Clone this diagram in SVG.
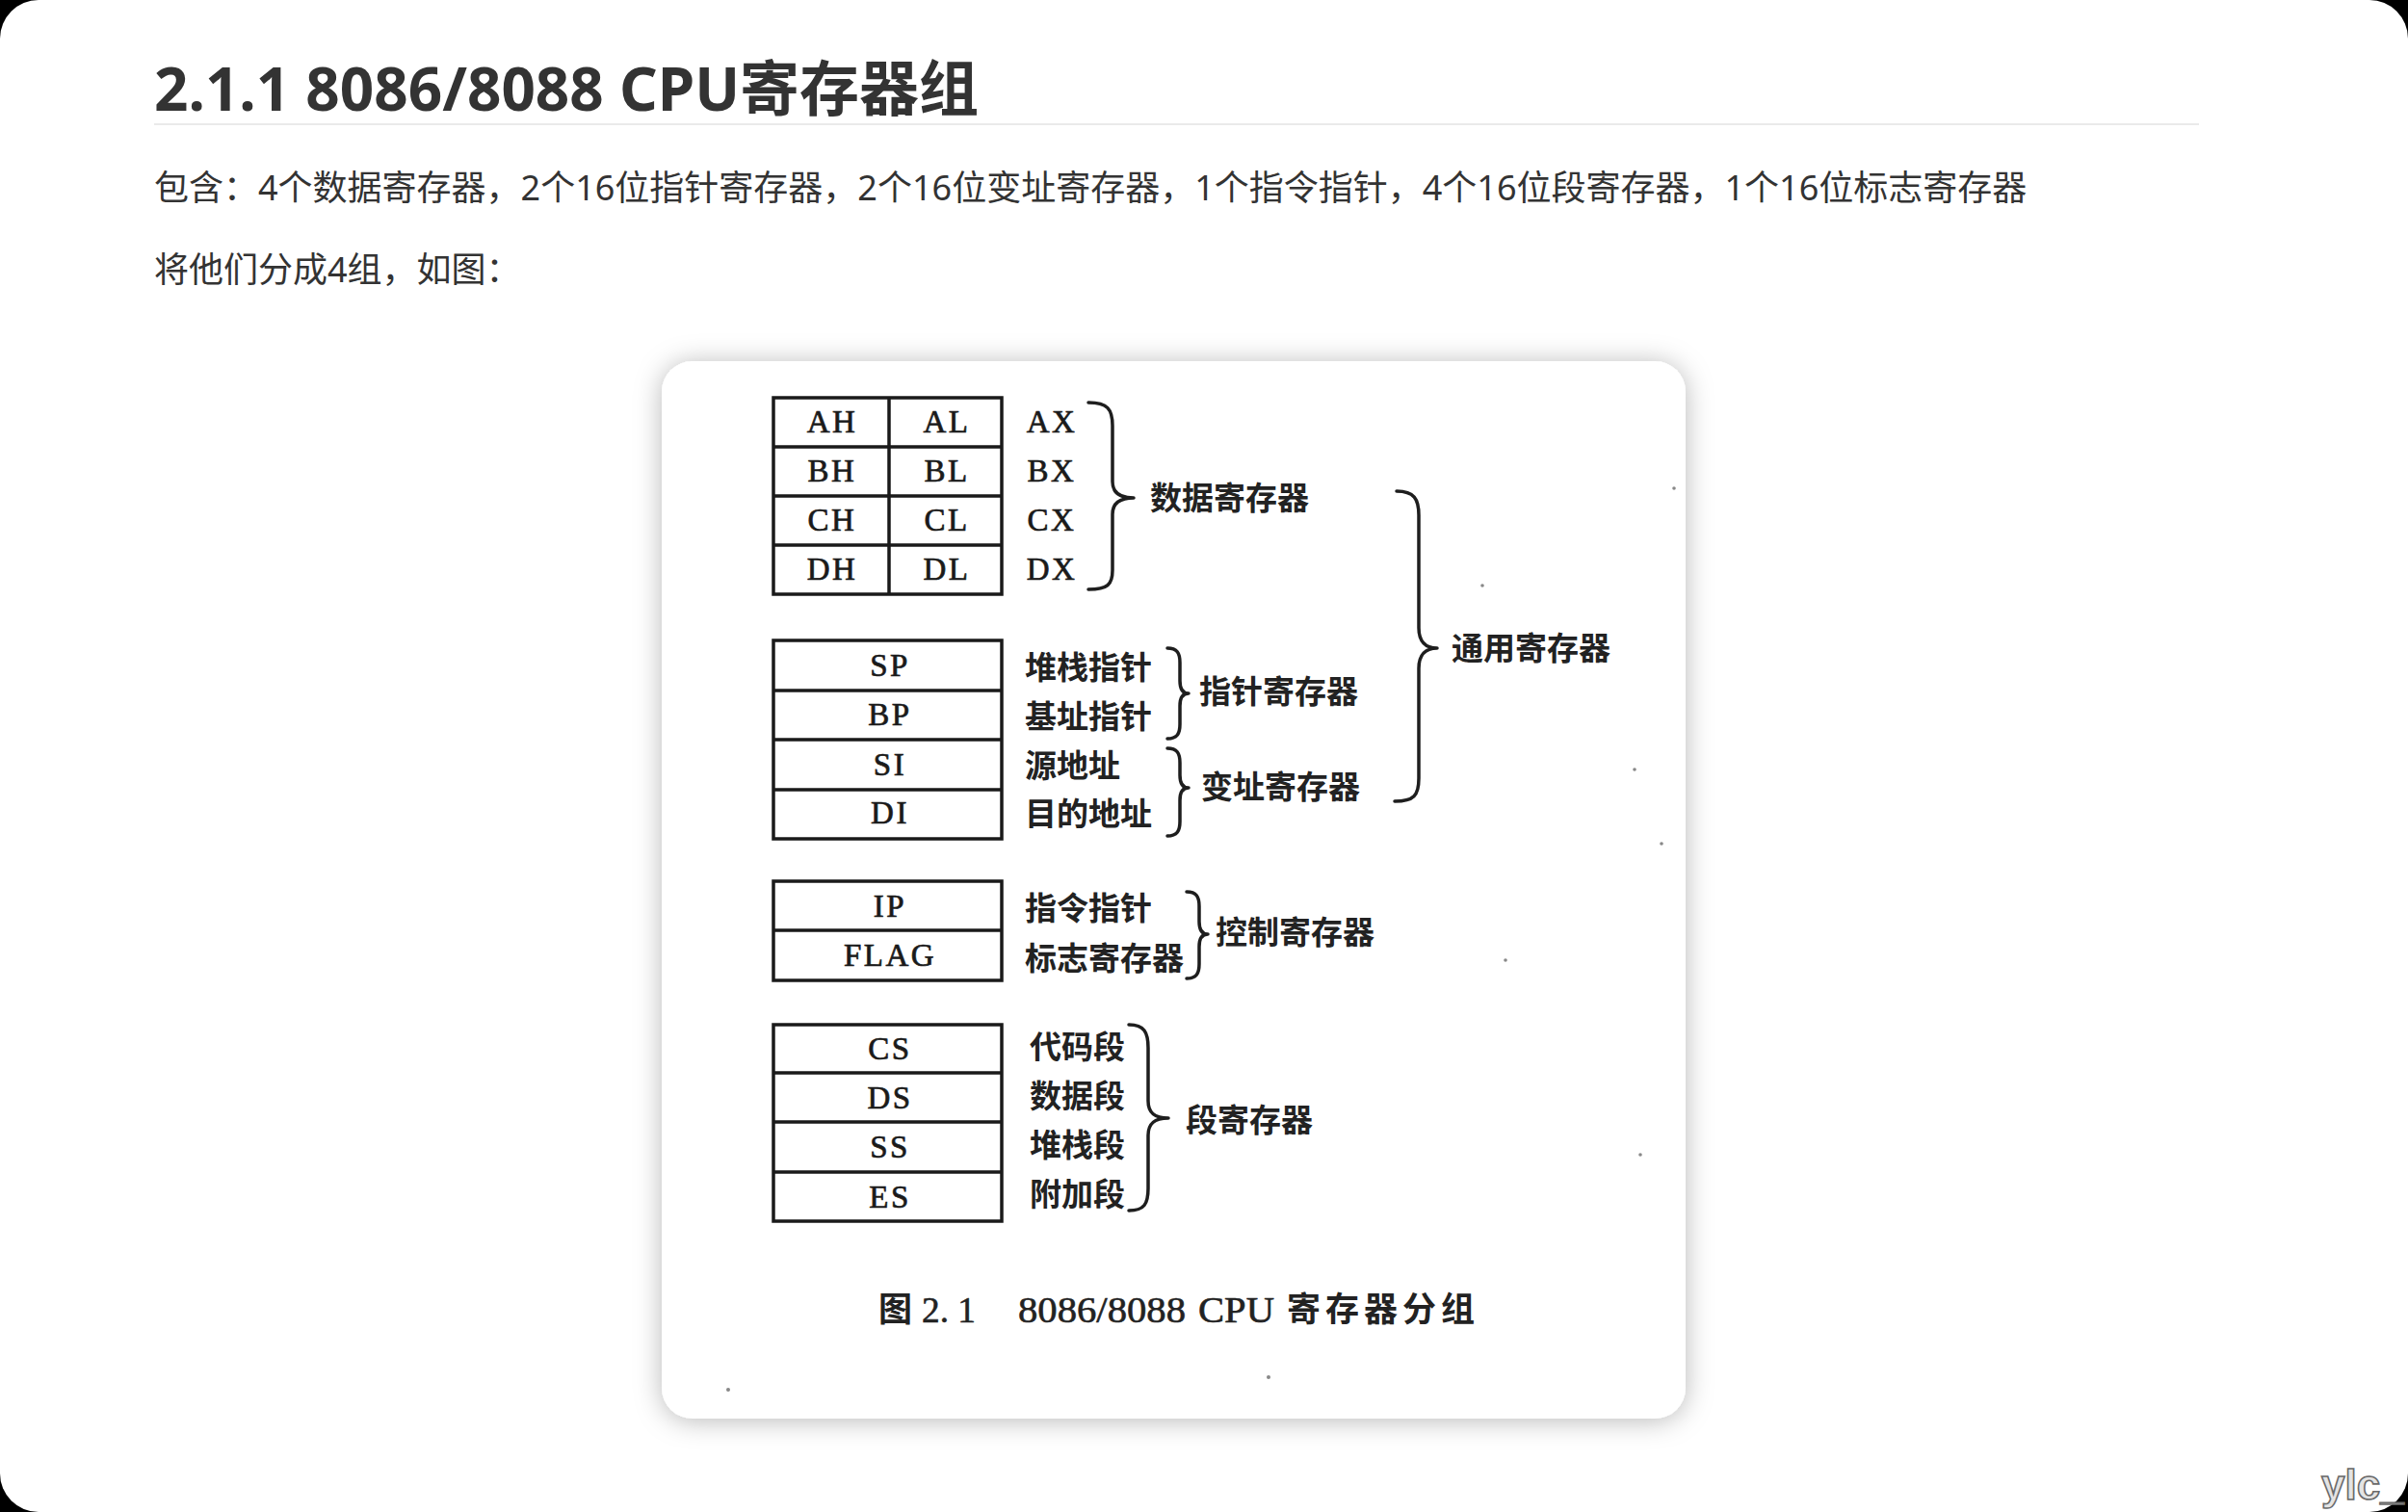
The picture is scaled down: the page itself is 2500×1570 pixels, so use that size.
<svg xmlns="http://www.w3.org/2000/svg" width="2500" height="1570" viewBox="0 0 2500 1570">
<defs>
<filter id="shadow" x="-10%" y="-10%" width="120%" height="120%">
<feDropShadow dx="0" dy="2" stdDeviation="14" flood-color="#000" flood-opacity="0.28"/>
</filter>
<style>
.title{font-family:"Noto Sans","Noto Sans CJK SC",sans-serif;font-weight:700;font-size:62px;fill:#333}
.para{font-family:"Noto Sans","Noto Sans CJK SC",sans-serif;font-size:36px;fill:#333}
.tbl{fill:none;stroke:#1a1a1a;stroke-width:3.5}
.reg{font-family:"Liberation Serif",serif;font-size:33px;letter-spacing:2.5px;fill:#1a1a1a;stroke:#1a1a1a;stroke-width:0.7;text-anchor:middle}
.cn{font-family:"Noto Sans CJK SC",sans-serif;font-weight:700;font-size:33px;fill:#222}
.brace{fill:none;stroke:#1e1e1e;stroke-width:3.5;stroke-linecap:round;stroke-linejoin:round}
.cap{font-family:"Liberation Serif",serif;font-size:38px;fill:#222;stroke:#222;stroke-width:0.6}
.capcn{font-family:"Noto Sans CJK SC",sans-serif;font-weight:700;font-size:35px;fill:#222}
.speck{fill:#888}
</style>
</defs>
<rect x="0" y="0" width="2500" height="1570" fill="#000"/>
<rect x="0" y="0" width="2500" height="1570" rx="40" ry="40" fill="#fff"/>

<g id="heading">
<text class="title" x="160" y="115">2.1.1 8086/8088 CPU寄存器组</text>
<rect x="160" y="128" width="2123" height="2" fill="#eaeaea"/>
</g>
<g id="para1"><text class="para" x="160" y="208">包含：4个数据寄存器，2个16位指针寄存器，2个16位变址寄存器，1个指令指针，4个16位段寄存器，1个16位标志寄存器</text></g>
<g id="para2"><text class="para" x="160" y="293">将他们分成4组，如图：</text></g>

<g id="panel">
<rect x="687" y="375" width="1063" height="1098" rx="32" ry="32" fill="#fff" filter="url(#shadow)"/>
<circle class="speck" cx="1738" cy="507" r="1.8"/>
<circle class="speck" cx="1539" cy="608" r="1.8"/>
<circle class="speck" cx="1697" cy="799" r="1.8"/>
<circle class="speck" cx="1725" cy="876" r="1.8"/>
<circle class="speck" cx="1563" cy="997" r="1.8"/>
<circle class="speck" cx="1703" cy="1199" r="1.8"/>
<circle class="speck" cx="756" cy="1443" r="2"/>
<circle class="speck" cx="1317" cy="1430" r="2"/>
</g>

<g id="data-registers">
<rect class="tbl" x="803" y="413" width="237" height="204"/>
<path class="tbl" d="M923,413 V617 M803,464 H1040 M803,515 H1040 M803,566 H1040"/>
<text class="reg" x="864" y="449">AH</text><text class="reg" x="983" y="449">AL</text>
<text class="reg" x="864" y="500">BH</text><text class="reg" x="983" y="500">BL</text>
<text class="reg" x="864" y="551">CH</text><text class="reg" x="983" y="551">CL</text>
<text class="reg" x="864" y="602">DH</text><text class="reg" x="983" y="602">DL</text>
<text class="reg" x="1092" y="449">AX</text>
<text class="reg" x="1092" y="500">BX</text>
<text class="reg" x="1092" y="551">CX</text>
<text class="reg" x="1092" y="602">DX</text>
</g>

<g id="pointer-index-registers">
<rect class="tbl" x="803" y="665" width="237" height="206"/>
<path class="tbl" d="M803,717 H1040 M803,768 H1040 M803,820 H1040"/>
<text class="reg" x="924" y="702">SP</text>
<text class="reg" x="924" y="753">BP</text>
<text class="reg" x="924" y="805">SI</text>
<text class="reg" x="924" y="855">DI</text>
<text class="cn" x="1064" y="705">堆栈指针</text>
<text class="cn" x="1064" y="756">基址指针</text>
<text class="cn" x="1064" y="807">源地址</text>
<text class="cn" x="1064" y="857">目的地址</text>
</g>

<g id="control-registers">
<rect class="tbl" x="803" y="915" width="237" height="103"/>
<path class="tbl" d="M803,966 H1040"/>
<text class="reg" x="924" y="952">IP</text>
<text class="reg" x="924" y="1003">FLAG</text>
<text class="cn" x="1064" y="955">指令指针</text>
<text class="cn" x="1064" y="1007">标志寄存器</text>
</g>

<g id="segment-registers">
<rect class="tbl" x="803" y="1064" width="237" height="204"/>
<path class="tbl" d="M803,1114 H1040 M803,1165 H1040 M803,1217 H1040"/>
<text class="reg" x="924" y="1100">CS</text>
<text class="reg" x="924" y="1151">DS</text>
<text class="reg" x="924" y="1202">SS</text>
<text class="reg" x="924" y="1254">ES</text>
<text class="cn" x="1069" y="1099">代码段</text>
<text class="cn" x="1069" y="1150">数据段</text>
<text class="cn" x="1069" y="1201">堆栈段</text>
<text class="cn" x="1069" y="1252">附加段</text>
</g>

<g id="group-labels">
<text id="lbl-data" class="cn" x="1194" y="529">数据寄存器</text>
<text id="lbl-pointer" class="cn" x="1245" y="730">指针寄存器</text>
<text id="lbl-index" class="cn" x="1247" y="829">变址寄存器</text>
<text id="lbl-general" class="cn" x="1507" y="685">通用寄存器</text>
<text id="lbl-control" class="cn" x="1262" y="980">控制寄存器</text>
<text id="lbl-segment" class="cn" x="1231" y="1175">段寄存器</text>
</g>

<g id="connectors">
<path class="brace" d="M1130,418 C1150,418 1155,425 1155,442 L1155,500 C1155,511 1162,517 1177,517 C1162,517 1155,523 1155,534 L1155,592 C1155,607 1150,612 1130,612"/>
<path class="brace" d="M1212,673 C1222,673 1225,678 1225,688 L1225,707 C1225,715 1228,720 1234,720 C1228,720 1225,725 1225,733 L1225,752 C1225,762 1222,767 1212,767"/>
<path class="brace" d="M1212,777 C1222,777 1225,782 1225,792 L1225,805 C1225,813 1228,818 1234,818 C1228,818 1225,823 1225,831 L1225,853 C1225,863 1222,868 1212,868"/>
<path class="brace" d="M1450,510 C1468,510 1473,518 1473,535 L1473,652 C1473,666 1480,673 1492,673 C1480,673 1473,680 1473,694 L1473,808 C1473,826 1468,832 1448,832"/>
<path class="brace" d="M1232,926 C1242,926 1245,931 1245,941 L1245,957 C1245,965 1248,970 1254,970 C1248,970 1245,975 1245,983 L1245,1001 C1245,1011 1242,1016 1232,1016"/>
<path class="brace" d="M1172,1064 C1188,1064 1192,1072 1192,1088 L1192,1143 C1192,1155 1198,1161 1213,1161 C1198,1161 1192,1167 1192,1179 L1192,1234 C1192,1250 1188,1257 1172,1257"/>
</g>

<g id="caption">
<text class="capcn" x="912" y="1372">图</text>
<text class="cap" x="957" y="1373" textLength="56" lengthAdjust="spacingAndGlyphs">2. 1</text>
<text class="cap" x="1057" y="1373" textLength="174" lengthAdjust="spacingAndGlyphs">8086/8088</text>
<text class="cap" x="1244" y="1373" textLength="79" lengthAdjust="spacingAndGlyphs">CPU</text>
<text class="capcn" x="1336" y="1372" textLength="195" lengthAdjust="spacing">寄存器分组</text>
</g>

<g id="watermark">
<text x="2410" y="1557" font-family="Liberation Sans,sans-serif" font-weight="700" font-size="44" fill="#e4e4e4" stroke="#6a6a6a" stroke-width="1.6">ylc_</text>
</g>
</svg>
